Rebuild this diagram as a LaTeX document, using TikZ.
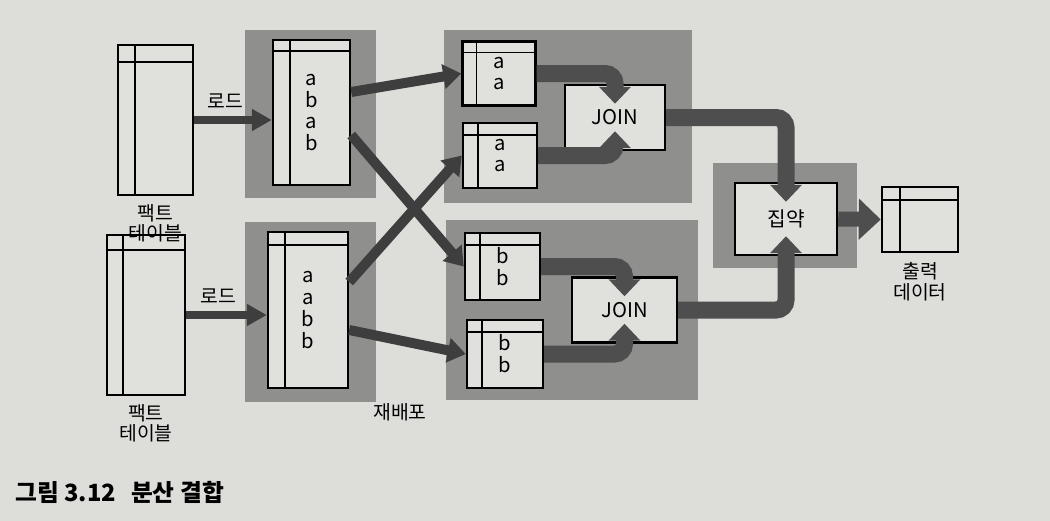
\documentclass[tikz,border=0pt]{standalone}
\usepackage{fontspec}
\setmainfont{Noto Sans CJK KR}
\usetikzlibrary{arrows.meta, positioning, calc}

\definecolor{paper}{RGB}{221,221,218}
\definecolor{grpgray}{RGB}{143,143,142}
\definecolor{tblfill}{RGB}{224,224,221}
\definecolor{arrgray}{RGB}{62,62,62}
\definecolor{flowgray}{RGB}{78,78,78}

\newcommand{\tblfont}{\fontsize{11.5}{12.5}\selectfont}
\newcommand{\lblfont}{\fontsize{11}{11.5}\selectfont}
\newcommand{\captfont}{\fontsize{13.5}{14}\selectfont\bfseries}

\begin{document}
\begin{tikzpicture}[>=Triangle,
    grp/.style={rectangle, fill=grpgray, inner sep=0pt},
    tbl/.style 2 args={rectangle, draw, line width=1.4pt, fill=tblfill, inner sep=0pt,
                align=center, font=\tblfont,
                path picture={
                  \draw[line width=0.9pt] ([yshift=-#1]path picture bounding box.north west)
                      -- ([yshift=-#1]path picture bounding box.north east);
                  \draw[line width=0.9pt] ([xshift=#2]path picture bounding box.north west)
                      -- ([xshift=#2]path picture bounding box.south west);}},
    op/.style={rectangle, draw, line width=1.4pt, fill=tblfill, inner sep=0pt,
               minimum height=1.3cm, font=\tblfont},
    lbl/.style={font=\lblfont, align=center, inner sep=1pt},
    load/.style={-{Triangle[length=0.4cm, width=0.42cm]}, line width=0.16cm, draw=arrgray},
    move/.style={-{Triangle[length=0.36cm, width=0.48cm]}, line width=0.2cm, draw=arrgray},
    flow/.style={-{Triangle[length=0.34cm, width=0.62cm]}, line width=0.34cm, draw=flowgray,
                 rounded corners=0.2cm},
    outp/.style={-{Triangle[length=0.44cm, width=0.8cm]}, line width=0.3cm, draw=flowgray}]

    \fill[paper] (0,0) rectangle (21,-10.42);
    \useasboundingbox (0,0) rectangle (21,-10.42);

    % grey stages
    \node[grp, minimum width=2.62cm, minimum height=3.36cm] (grpL1) at (6.21,-2.28) {};
    \node[grp, minimum width=2.62cm, minimum height=3.6cm]  (grpL2) at (6.21,-6.24) {};
    \node[grp, minimum width=4.96cm, minimum height=3.46cm] (grpR1) at (11.35,-2.33) {};
    \node[grp, minimum width=5.04cm, minimum height=3.6cm]  (grpR2) at (11.44,-6.2) {};
    \node[grp, minimum width=2.88cm, minimum height=2.1cm]  (grpAgg) at (15.7,-4.31) {};

    % fact tables
    \node[tbl={0.34cm}{0.34cm}, minimum width=1.5cm, minimum height=3.0cm] (fact1) at (3.11,-2.4) {};
    \node[tbl={0.3cm}{0.32cm}, minimum width=1.56cm, minimum height=3.2cm] (fact2) at (2.92,-6.3) {};
    \node[lbl, below=0.12cm of fact1] (fname1) {팩트\\테이블};
    \node[lbl, below=0.12cm of fact2] (fname2) {팩트\\테이블};

    % loaded tables
    \node[tbl={0.22cm}{0.34cm}, minimum width=1.54cm, minimum height=2.9cm] (ab1) at (6.23,-2.25) {a\\b\\a\\b};
    \node[tbl={0.26cm}{0.34cm}, minimum width=1.6cm, minimum height=3.12cm] (ab2) at (6.16,-6.2) {a\\a\\b\\b};

    % redistributed tables
    \node[tbl={0.22cm}{0.28cm}, minimum width=1.46cm, minimum height=1.28cm] (aa1) at (9.98,-1.47) {a\\a};
    \node[tbl={0.24cm}{0.3cm},  minimum width=1.48cm, minimum height=1.3cm]  (aa2) at (10.0,-3.11) {a\\a};
    \node[tbl={0.24cm}{0.3cm},  minimum width=1.5cm,  minimum height=1.34cm] (bb1) at (10.05,-5.33) {b\\b};
    \node[tbl={0.24cm}{0.3cm},  minimum width=1.52cm, minimum height=1.36cm] (bb2) at (10.1,-7.08) {b\\b};
    \node[lbl] (redist) at (8.0,-8.24) {재배포};

    \node[op, minimum width=2.0cm]  (join1) at (12.3,-2.35) {JOIN};
    \node[op, minimum width=2.1cm]  (join2) at (12.49,-6.2) {JOIN};
    \node[op, minimum width=2.04cm, minimum height=1.44cm] (agg) at (15.72,-4.38) {집약};

    \node[tbl={0.26cm}{0.36cm}, minimum width=1.52cm, minimum height=1.3cm] (out) at (18.4,-4.39) {};
    \node[lbl, below=0.15cm of out] (outname) {출력\\데이터};

    % arrows
    \draw[load] (fact1.east) -- node[lbl, pos=0.4, above=0.12cm] (load1) {로드} (ab1.west |- fact1.east);
    \draw[load] (fact2.east) -- node[lbl, pos=0.4, above=0.12cm] (load2) {로드} (ab2.west |- fact2.east);

    \draw[move] ([yshift=0.41cm]ab1.east) -- (aa1.west);
    \draw[move] ([yshift=-0.45cm]ab1.east) -- (bb1.west);
    \draw[move] ([yshift=0.56cm]ab2.east) -- (aa2.west);
    \draw[move] ([yshift=-0.4cm]ab2.east) -- (bb2.west);

    \draw[flow] (aa1.east) -| ([yshift=-0.4cm]join1.north);
    \draw[flow] (aa2.east) -| ([yshift=0.4cm]join1.south);
    \draw[flow] (bb1.east) -| ([yshift=-0.4cm]join2.north);
    \draw[flow] (bb2.east) -| ([yshift=0.4cm]join2.south);
    \draw[flow] (join1.east) -| ([yshift=-0.4cm]agg.north);
    \draw[flow] (join2.east) -| ([yshift=0.4cm]agg.south);

    \draw[outp] (agg.east) -- (out.west);

    \node[anchor=west, font=\captfont, inner sep=0pt] (caption) at (0.3,-9.84) {그림 3.12\hspace{0.3cm}분산 결합};
\end{tikzpicture}
\end{document}
